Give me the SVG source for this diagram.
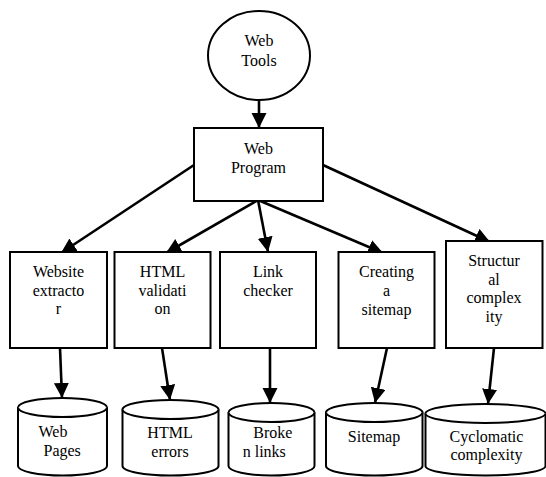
<svg xmlns="http://www.w3.org/2000/svg" width="546" height="477" viewBox="0 0 546 477">
  <style>
    .shape { fill: #ffffff; stroke: #000000; stroke-width: 2; }
    .edge { fill: none; stroke: #000000; stroke-width: 2.6; marker-end: url(#arrow); }
  </style>
  <defs>
    <marker id="arrow" markerUnits="userSpaceOnUse" markerWidth="16" markerHeight="16" refX="15" refY="7.5" orient="auto">
      <path d="M0,0 L15,7.5 L0,15 z" fill="#000000"/>
    </marker>
  </defs>
  <rect width="546" height="477" fill="#ffffff"/>

  <!-- connectors -->
  <g id="connectors">
    <line class="edge" x1="259" y1="100" x2="259" y2="128"/>
    <line class="edge" x1="194" y1="165" x2="61" y2="253"/>
    <line class="edge" x1="258" y1="200" x2="166" y2="253"/>
    <line class="edge" x1="258" y1="200" x2="268" y2="252"/>
    <line class="edge" x1="258" y1="200" x2="383" y2="253"/>
    <line class="edge" x1="323" y1="165" x2="490" y2="242"/>
    <line class="edge" x1="60" y1="348" x2="62" y2="398"/>
    <line class="edge" x1="162" y1="348" x2="170" y2="400"/>
    <line class="edge" x1="270" y1="348" x2="270" y2="403"/>
    <line class="edge" x1="387" y1="348" x2="375" y2="403"/>
    <line class="edge" x1="494" y1="348" x2="488" y2="404"/>
  </g>

  <g font-family="Liberation Serif" font-size="16" fill="#000000">
    <!-- root -->
    <g id="web-tools">
      <ellipse class="shape" cx="259" cy="55.5" rx="51" ry="44.5"/>
      <text text-anchor="middle" x="259" y="46">Web</text>
      <text text-anchor="middle" x="259" y="66">Tools</text>
    </g>

    <g id="web-program">
      <rect class="shape" x="194" y="128" width="129" height="73"/>
      <text text-anchor="middle" x="258.5" y="154">Web</text>
      <text text-anchor="middle" x="258.5" y="173">Program</text>
    </g>

    <!-- tools -->
    <g id="website-extractor">
      <rect class="shape" x="10" y="252" width="97" height="96"/>
      <text text-anchor="middle" x="58.5" y="277">Website</text>
      <text text-anchor="middle" x="58.5" y="295.5">extracto</text>
      <text text-anchor="middle" x="58.5" y="314">r</text>
    </g>

    <g id="html-validation">
      <rect class="shape" x="114.5" y="252" width="96" height="96"/>
      <text text-anchor="middle" x="162.5" y="277">HTML</text>
      <text text-anchor="middle" x="162.5" y="295.5">validati</text>
      <text text-anchor="middle" x="162.5" y="314">on</text>
    </g>

    <g id="link-checker">
      <rect class="shape" x="220" y="252" width="96" height="96"/>
      <text text-anchor="middle" x="268" y="277">Link</text>
      <text text-anchor="middle" x="268" y="295.5">checker</text>
    </g>

    <g id="creating-sitemap">
      <rect class="shape" x="338.5" y="252" width="96" height="96"/>
      <text text-anchor="middle" x="386.5" y="277">Creating</text>
      <text text-anchor="middle" x="386.5" y="295.5">a</text>
      <text text-anchor="middle" x="386.5" y="314.5">sitemap</text>
    </g>

    <g id="structural-complexity">
      <rect class="shape" x="446" y="241" width="96.5" height="107"/>
      <text text-anchor="middle" x="494" y="266">Structur</text>
      <text text-anchor="middle" x="494" y="284.5">al</text>
      <text text-anchor="middle" x="494" y="303">complex</text>
      <text text-anchor="middle" x="494" y="321.5">ity</text>
    </g>

    <!-- data stores -->
    <g id="web-pages">
      <path class="shape" d="M18,407.5 A44.5,9.5 0 0 1 107,407.5 L107,466 A44.5,9.5 0 0 1 18,466 Z"/>
      <path class="shape" d="M18,407.5 A44.5,9.5 0 0 0 107,407.5" fill="none"/>
      <text x="38.5" y="437">Web</text>
      <text x="43.5" y="456">Pages</text>
    </g>

    <g id="html-errors">
      <path class="shape" d="M122.5,409.5 A48,9.5 0 0 1 218.5,409.5 L218.5,466 A48,9.5 0 0 1 122.5,466 Z"/>
      <path class="shape" d="M122.5,409.5 A48,9.5 0 0 0 218.5,409.5" fill="none"/>
      <text text-anchor="middle" x="170" y="438">HTML</text>
      <text text-anchor="middle" x="170" y="456.5">errors</text>
    </g>

    <g id="broken-links">
      <path class="shape" d="M228.5,412.5 A43,9.5 0 0 1 314.5,412.5 L314.5,466 A43,9.5 0 0 1 228.5,466 Z"/>
      <path class="shape" d="M228.5,412.5 A43,9.5 0 0 0 314.5,412.5" fill="none"/>
      <text x="253.3" y="438">Broke</text>
      <text x="242.7" y="457">n links</text>
    </g>

    <g id="sitemap">
      <path class="shape" d="M326,412.5 A48,9.5 0 0 1 422.5,412.5 L422.5,466 A48,9.5 0 0 1 326,466 Z"/>
      <path class="shape" d="M326,412.5 A48,9.5 0 0 0 422.5,412.5" fill="none"/>
      <text text-anchor="middle" x="374" y="442">Sitemap</text>
    </g>

    <g id="cyclomatic-complexity">
      <path class="shape" d="M425.5,413.5 A60,9.5 0 0 1 545.5,413.5 L545.5,466 A60,9.5 0 0 1 425.5,466 Z"/>
      <path class="shape" d="M425.5,413.5 A60,9.5 0 0 0 545.5,413.5" fill="none"/>
      <text text-anchor="middle" x="486.5" y="442">Cyclomatic</text>
      <text text-anchor="middle" x="486.5" y="460">complexity</text>
    </g>
  </g>
</svg>
